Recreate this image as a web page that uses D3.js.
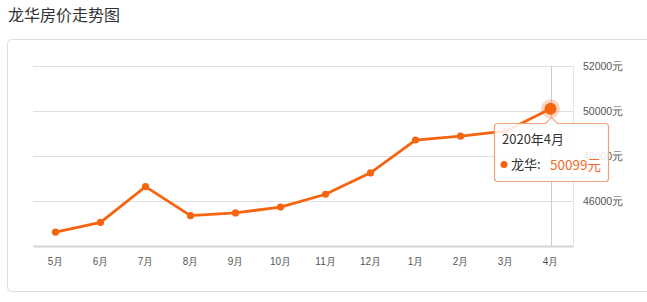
<!DOCTYPE html>
<html><head><meta charset="utf-8">
<script src="https://cdn.jsdelivr.net/npm/d3@7/dist/d3.min.js"></script>
<style>body{margin:0;background:#fff;}svg{display:block;font-family:"Noto Sans CJK SC","Noto Sans",sans-serif;}</style>
</head><body>
<script>
const title = "龙华房价走势图";
const months = ["5月","6月","7月","8月","9月","10月","11月","12月","1月","2月","3月","4月"];
const prices = [44620, 45050, 46640, 45350, 45470, 45730, 46300, 47250, 48710, 48880, 49100, 50099];
const yTicks = [46000, 48000, 50000, 52000];
const seriesName = "龙华";
const tipTitle = "2020年4月";
const unit = "元";

const W = 647, H = 302;
const svg = d3.select("body").append("svg").attr("width", W).attr("height", H);
const orange = "#f5640f";

svg.append("text").attr("x", 8).attr("y", 21).attr("font-size", 16).attr("fill", "#333").text(title);
svg.append("rect").attr("x", 7.5).attr("y", 39.5).attr("width", 700).attr("height", 252)
  .attr("rx", 4).attr("fill", "none").attr("stroke", "#ddd");

const x = d3.scaleBand().domain(months).range([33, 573]);
const y = d3.scaleLinear().domain([44000, 52000]).range([246, 66]);
const cx = d => x(d) + x.bandwidth() / 2;

// grid
svg.append("g").selectAll("line").data(yTicks).join("line")
  .attr("x1", 33).attr("x2", 574).attr("y1", d => Math.round(y(d)) + 0.5).attr("y2", d => Math.round(y(d)) + 0.5)
  .attr("stroke", "#e0e0e0");
// right edge
svg.append("line").attr("x1", 573.5).attr("x2", 573.5).attr("y1", 66).attr("y2", 246).attr("stroke", "#e4e4e4");
// x axis
const xa = svg.append("g").attr("transform", "translate(0,246)").call(d3.axisBottom(x).tickSize(0).tickPadding(12));
xa.select(".domain").attr("stroke", "#d4d4d4").attr("stroke-width", 2);
xa.selectAll("text").attr("font-size", 10).attr("fill", "#555").attr("font-family", "inherit");
// y labels
const ya = svg.append("g").attr("transform", "translate(573,0)").call(d3.axisRight(y).tickValues(yTicks).tickSize(0).tickPadding(10).tickFormat(d => d + unit));
ya.select(".domain").remove();
ya.selectAll("text").attr("font-size", 10.5).attr("fill", "#555").attr("font-family", "inherit");

// crosshair
const last = months.length - 1;
svg.append("line").attr("x1", Math.round(cx(months[last])) + 0.5).attr("x2", Math.round(cx(months[last])) + 0.5)
  .attr("y1", 66).attr("y2", 246).attr("stroke", "#ccc");

// line
const line = d3.line().x((d, i) => cx(months[i])).y(d => y(d));
svg.append("path").datum(prices).attr("d", line).attr("fill", "none").attr("stroke", orange).attr("stroke-width", 2.8);
svg.append("g").selectAll("circle").data(prices).join("circle")
  .attr("cx", (d, i) => cx(months[i])).attr("cy", d => y(d)).attr("r", 3.6).attr("fill", orange);
// highlight
const hx = cx(months[last]), hy = y(prices[last]);
svg.append("circle").attr("cx", hx).attr("cy", hy).attr("r", 9.5).attr("fill", orange).attr("opacity", 0.25);
svg.append("circle").attr("cx", hx).attr("cy", hy).attr("r", 6).attr("fill", orange);

// tooltip
const tx = 494.5, ty = 123.5, tw = 114, th = 58, ax = Math.round(hx) + 0.5;
const p = d3.path();
p.moveTo(tx + 3, ty); p.lineTo(ax - 6, ty); p.lineTo(ax, ty - 6); p.lineTo(ax + 6, ty);
p.lineTo(tx + tw - 3, ty); p.quadraticCurveTo(tx + tw, ty, tx + tw, ty + 3);
p.lineTo(tx + tw, ty + th - 3); p.quadraticCurveTo(tx + tw, ty + th, tx + tw - 3, ty + th);
p.lineTo(tx + 3, ty + th); p.quadraticCurveTo(tx, ty + th, tx, ty + th - 3);
p.lineTo(tx, ty + 3); p.quadraticCurveTo(tx, ty, tx + 3, ty); p.closePath();
svg.append("path").attr("d", p.toString()).attr("fill", "rgba(255,255,255,0.88)").attr("stroke", "#eea27a").attr("stroke-width", 1.2);
svg.append("text").attr("x", 502).attr("y", 144).attr("font-size", 13).attr("fill", "#333").text(tipTitle);
svg.append("circle").attr("cx", 504).attr("cy", 164.5).attr("r", 3.5).attr("fill", orange);
svg.append("text").attr("x", 511).attr("y", 169).attr("font-size", 13).attr("fill", "#333").text(seriesName + ":");
svg.append("text").attr("x", 550).attr("y", 169.5).attr("font-size", 13.5).attr("fill", "#f26a2a").text(prices[last] + unit);
</script>
</body></html>
